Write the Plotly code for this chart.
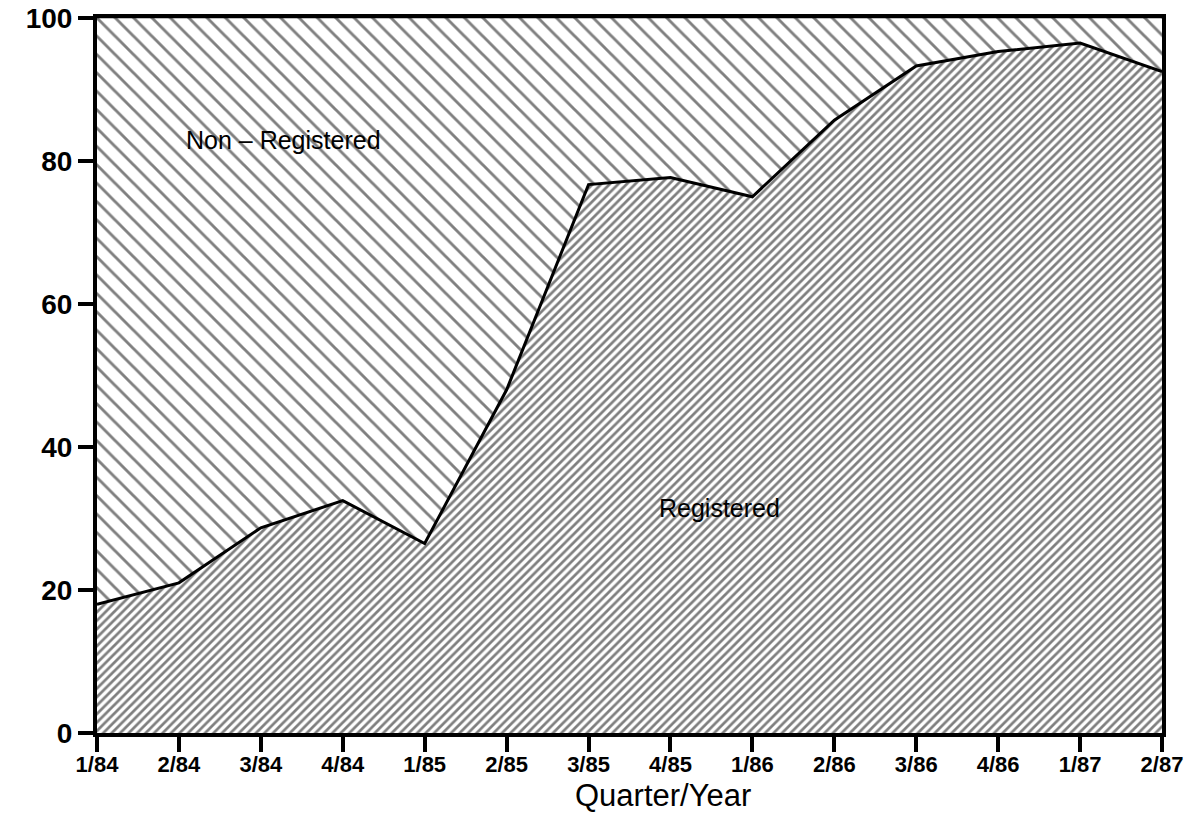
import plotly.graph_objects as go

quarters = ["1/84", "2/84", "3/84", "4/84", "1/85", "2/85", "3/85",
            "4/85", "1/86", "2/86", "3/86", "4/86", "1/87", "2/87"]
registered = [18, 21, 28.7, 32.5, 26.5, 48, 76.7, 77.7, 75, 85.7, 93.3, 95.3, 96.5, 92.5]
non_registered = [100 - v for v in registered]

FONT = "Liberation Sans, Arial, Helvetica"

fig = go.Figure()
fig.add_trace(go.Scatter(
    x=quarters, y=registered, name="Registered", stackgroup="one",
    mode="lines", line=dict(color="black", width=3),
    fillcolor="white",
    fillpattern=dict(shape="/", size=6, solidity=0.45, fgcolor="black", bgcolor="white"),
))
fig.add_trace(go.Scatter(
    x=quarters, y=non_registered, name="Non-Registered", stackgroup="one",
    mode="lines", line=dict(color="black", width=0.5),
    fillcolor="white",
    fillpattern=dict(shape="\\", size=13, solidity=0.22, fgcolor="black", bgcolor="white"),
))

fig.add_annotation(x=2.28, y=83, text="Non – Registered", showarrow=False,
                   font=dict(family=FONT, size=25, color="black"))
fig.add_annotation(x=7.6, y=31.5, text="Registered", showarrow=False,
                   font=dict(family=FONT, size=25, color="black"))
fig.add_annotation(xref="paper", yref="paper", x=0.531, y=-0.088,
                   xanchor="center", yanchor="middle",
                   text="Quarter/Year", showarrow=False,
                   font=dict(family=FONT, size=31, color="black"))

fig.update_layout(
    width=1197, height=834,
    margin=dict(l=97, r=35, t=18, b=101),
    paper_bgcolor="white", plot_bgcolor="white",
    showlegend=False,
    font=dict(family=FONT, color="black"),
)
fig.update_xaxes(
    type="category", range=[0, 13], automargin=False,
    showgrid=False, zeroline=False,
    showline=True, linecolor="black", linewidth=4, mirror=True,
    ticks="outside", ticklen=15, tickwidth=4, tickcolor="black",
    tickfont=dict(size=22, weight="bold"),
    ticklabelstandoff=-6,
)
fig.update_yaxes(
    range=[0, 100], tickvals=[0, 20, 40, 60, 80, 100], automargin=False,
    showgrid=False, zeroline=False,
    showline=True, linecolor="black", linewidth=4, mirror=True,
    ticks="outside", ticklen=15, tickwidth=4, tickcolor="black",
    tickfont=dict(size=28, weight="bold"),
)

fig.write_html("out.html", config={"displayModeBar": False},
               post_script="document.body.style.margin='0px';")
